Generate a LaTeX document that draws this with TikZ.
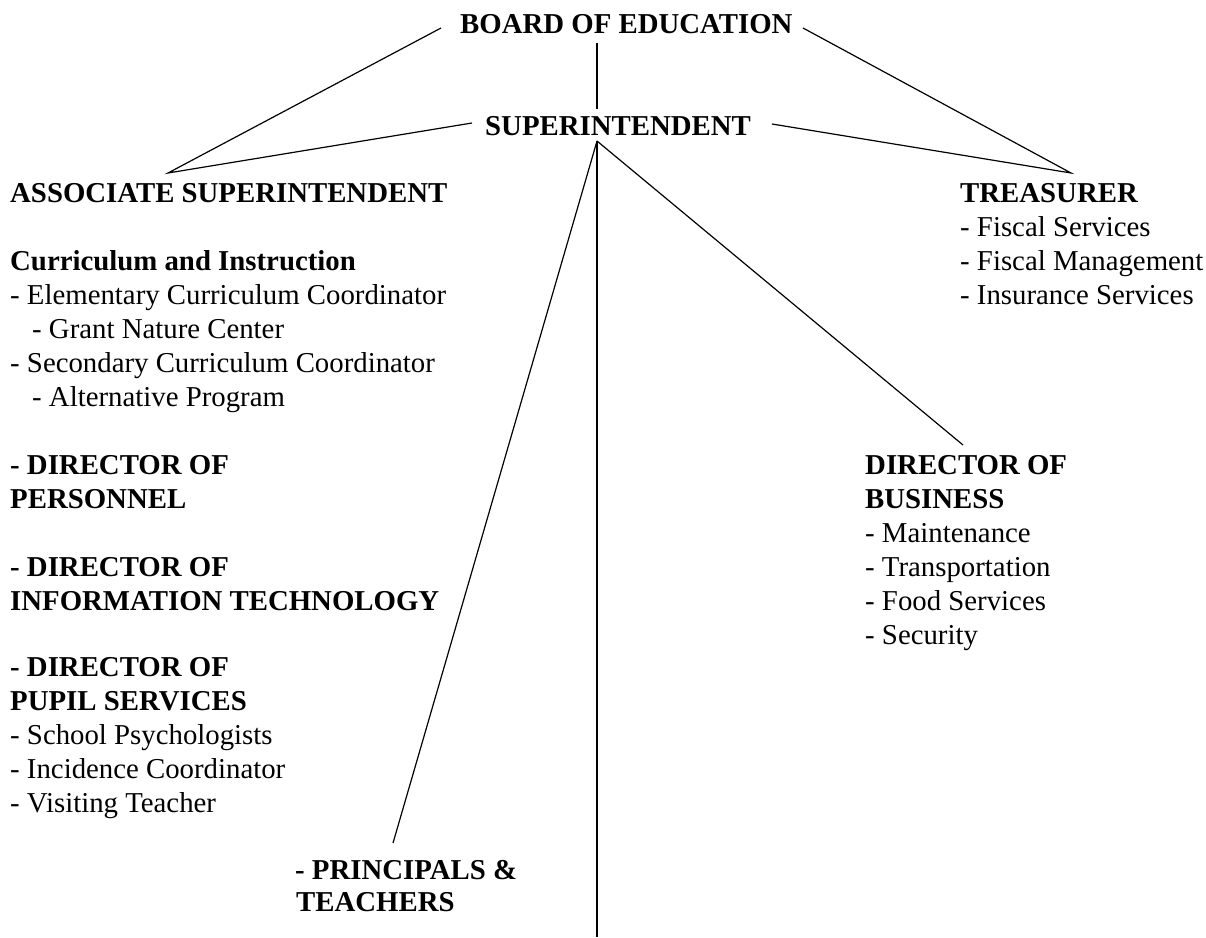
\documentclass[tikz,border=0pt]{standalone}
\usepackage{fontspec}
\setmainfont{Liberation Serif}
\begin{document}
\begin{tikzpicture}[x=1pt,y=-1pt,
  reg/.style={font=\fontsize{28.8}{34}\selectfont, anchor=base west, inner sep=0pt, text=black},
  hd/.style={font=\fontsize{28.8}{34}\selectfont\bfseries, anchor=base west, inner sep=0pt, text=black},
  link/.style={draw=black, line width=1.2pt}]
\useasboundingbox[fill=white] (0,0) rectangle (1206,937);
% top
\node[hd] (boe) at (460,33) {BOARD OF EDUCATION};
\node[hd] (sup) at (485,135) {SUPERINTENDENT};
% left column
\node[hd] (assoc) at (10,202) {ASSOCIATE SUPERINTENDENT};
\node[hd] (ci) at (10,270) {Curriculum and Instruction};
\node[reg] (ecc) at (10,304) {- Elementary Curriculum Coordinator};
\node[reg] (gnc) at (32,338) {- Grant Nature Center};
\node[reg] (scc) at (10,372) {- Secondary Curriculum Coordinator};
\node[reg] (alt) at (32,406) {- Alternative Program};
\node[hd] (dp1) at (10,474) {- DIRECTOR OF};
\node[hd] (dp2) at (10,508) {PERSONNEL};
\node[hd] (dit1) at (10,576) {- DIRECTOR OF};
\node[hd] (dit2) at (10,610) {INFORMATION TECHNOLOGY};
\node[hd] (dps1) at (10,676) {- DIRECTOR OF};
\node[hd] (dps2) at (10,710) {PUPIL SERVICES};
\node[reg] (psy) at (10,744) {- School Psychologists};
\node[reg] (inc) at (10,778) {- Incidence Coordinator};
\node[reg] (vis) at (10,812) {- Visiting Teacher};
\node[hd] (pt1) at (295,879) {- PRINCIPALS \&};
\node[hd] (pt2) at (296,911) {TEACHERS};
% right column
\node[hd] (tre) at (960,202) {TREASURER};
\node[reg] (fs) at (960,236) {- Fiscal Services};
\node[reg] (fm) at (960,270) {- Fiscal Management};
\node[reg] (ins) at (960,304) {- Insurance Services};
\node[hd] (db1) at (865,474) {DIRECTOR OF};
\node[hd] (db2) at (865,508) {BUSINESS};
\node[reg] (mnt) at (865,542) {- Maintenance};
\node[reg] (trn) at (865,576) {- Transportation};
\node[reg] (food) at (865,610) {- Food Services};
\node[reg] (sec) at (865,644) {- Security};
% connector end points
\coordinate (boeL) at (441,28);
\coordinate (boeR) at (803,28);
\coordinate (boeB) at (597,43);
\coordinate (supT) at (597,109);
\coordinate (supL) at (472,123);
\coordinate (supR) at (772,124);
\coordinate (supB) at (597,141);
\coordinate (apexL) at (168,173);
\coordinate (apexR) at (1071,173);
\coordinate (ptT) at (393,843);
\coordinate (dbT) at (963,445);
\coordinate (bottom) at (597,937);
% connectors
\draw[link] (boeL) -- (apexL) -- (supL);
\draw[link] (boeR) -- (apexR) -- (supR);
\draw[link] (boeB) -- (supT);
\draw[link] (supB) -- (ptT);
\draw[link] (supB) -- (bottom);
\draw[link] (supB) -- (dbT);
\end{tikzpicture}
\end{document}
